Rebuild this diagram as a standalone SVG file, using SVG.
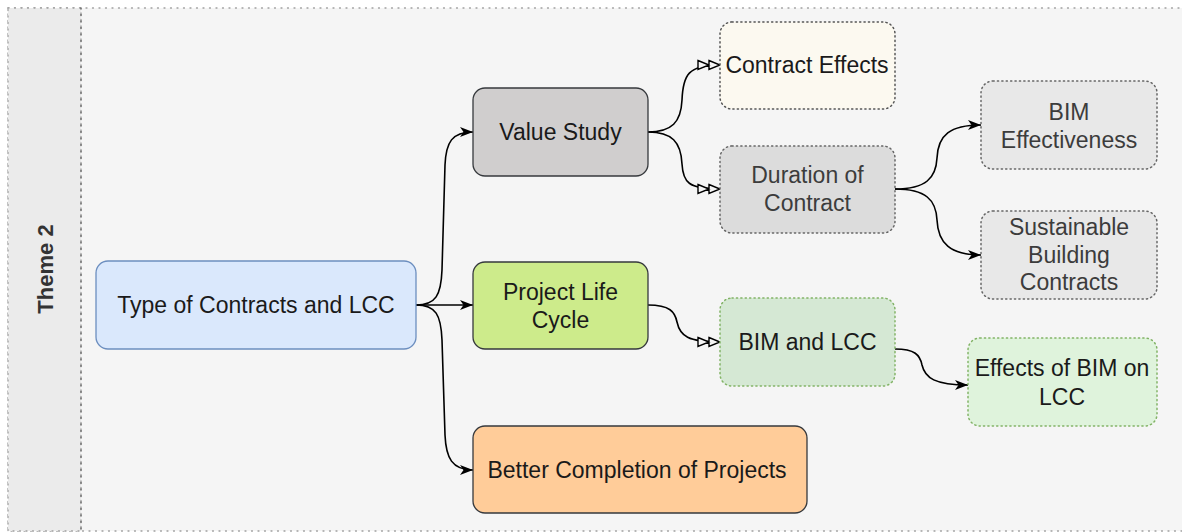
<svg xmlns="http://www.w3.org/2000/svg" width="1182" height="532" viewBox="0 0 1182 532">
<defs>
<style>
text{font-family:"Liberation Sans",Arial,sans-serif;font-size:23px;text-anchor:middle;fill:#1a1a1a}
.grey{fill:#3c3c3c}
.solid{stroke:#36393d;stroke-width:1.3}
.dot{stroke-width:1.5;stroke-dasharray:1.2 3.2;stroke-linecap:round}
.edge{fill:none;stroke:#000;stroke-width:1.6}
.fa{marker-end:url(#arrow)}
.da{marker-end:url(#dbl)}
.frame{stroke:#a0a0a0;stroke-width:1.3;stroke-dasharray:1 5.5;stroke-linecap:round}
</style>
<marker id="arrow" markerUnits="userSpaceOnUse" markerWidth="14" markerHeight="12" refX="13" refY="5" orient="auto" overflow="visible">
<path d="M0,0 L13,5 L0,10 L3.5,5 z" fill="#000"/>
</marker>
<marker id="dbl" markerUnits="userSpaceOnUse" markerWidth="24" markerHeight="12" refX="22" refY="4.5" orient="auto" overflow="visible">
<path d="M0,0 L11,4.5 L0,9 z M11,0 L22,4.5 L11,9 z" fill="#f5f5f5" stroke="#000" stroke-width="1.4" stroke-linejoin="miter"/>
</marker>
</defs>

<g id="container">
<rect class="frame" x="8" y="8" width="1190" height="523" fill="#f5f5f5"/>
<rect class="frame" x="8" y="8" width="73" height="523" fill="#ebebeb"/>
<line x1="81" y1="8" x2="81" y2="531" stroke="#666" stroke-width="1.5" stroke-dasharray="1 5.5" stroke-linecap="round"/>
<text transform="translate(53,269) rotate(-90)" x="0" y="0" style="font-weight:bold;font-size:22px;fill:#333">Theme 2</text>
</g>

<g id="connectors">
<path class="edge fa" d="M416,305 C436,305 441,295 442,270 L445,165 C446,142 452,132 473,132"/>
<path class="edge fa" d="M416,305 L473,305"/>
<path class="edge fa" d="M416,305 C436,305 441,315 442,340 L445,435 C446,458 452,470 473,470"/>
<path class="edge da" d="M648,132 C672,132 681,122 682,100 C683,75 688,65 720,65"/>
<path class="edge da" d="M648,132 C672,132 681,142 682,164 C683,182 688,189 720,189"/>
<path class="edge fa" d="M895,189 C926,189 936,178 937,158 C938,135 950,125 981,125"/>
<path class="edge fa" d="M895,189 C926,189 936,200 937,220 C938,243 950,255 981,255"/>
<path class="edge da" d="M648,305 C670,305 675,312 677,322 C680,336 688,342 720,342"/>
<path class="edge fa" d="M895,349 C915,349 920,355 922,365 C925,378 935,385 968,385"/>
</g>

<g id="n-type">
<rect x="96" y="261" width="320" height="88" rx="12" fill="#dae8fc" stroke="#6c8ebf" stroke-width="1.3"/>
<text x="256" y="313">Type of Contracts and LCC</text>
</g>

<g id="n-value">
<rect class="solid" x="473" y="88" width="175" height="88" rx="12" fill="#d0cece"/>
<text x="560.5" y="140">Value Study</text>
</g>

<g id="n-effects">
<rect class="dot" x="720" y="22" width="175" height="87" rx="12" fill="#fcf9f0" stroke="#555"/>
<text x="807" y="73">Contract Effects</text>
</g>

<g id="n-duration">
<rect class="dot" x="720" y="146" width="175" height="87" rx="12" fill="#dcdcdc" stroke="#666"/>
<text class="grey" x="807.5" y="183">Duration of</text>
<text class="grey" x="807.5" y="211">Contract</text>
</g>

<g id="n-bimeff">
<rect class="dot" x="981" y="81" width="176" height="88" rx="12" fill="#e8e8e8" stroke="#666"/>
<text class="grey" x="1069" y="120">BIM</text>
<text class="grey" x="1069" y="148">Effectiveness</text>
</g>

<g id="n-sust">
<rect class="dot" x="981" y="211" width="176" height="88" rx="12" fill="#e8e8e8" stroke="#666"/>
<text class="grey" x="1069" y="235">Sustainable</text>
<text class="grey" x="1069" y="263">Building</text>
<text class="grey" x="1069" y="290">Contracts</text>
</g>

<g id="n-plc">
<rect class="solid" x="473" y="262" width="175" height="87" rx="12" fill="#cdeb8b"/>
<text x="560.5" y="300">Project Life</text>
<text x="560.5" y="328">Cycle</text>
</g>

<g id="n-bimlcc">
<rect class="dot" x="720" y="298" width="175" height="88" rx="12" fill="#d5e8d4" stroke="#82b366"/>
<text x="807.5" y="350">BIM and LCC</text>
</g>

<g id="n-effbim">
<rect class="dot" x="968" y="338" width="189" height="88" rx="12" fill="#dff3dc" stroke="#82b366"/>
<text x="1062" y="376">Effects of BIM on</text>
<text x="1062" y="405">LCC</text>
</g>

<g id="n-better">
<rect class="solid" x="473" y="426" width="334" height="87" rx="12" fill="#ffcc99"/>
<text x="637" y="477.5">Better Completion of Projects</text>
</g>
</svg>
